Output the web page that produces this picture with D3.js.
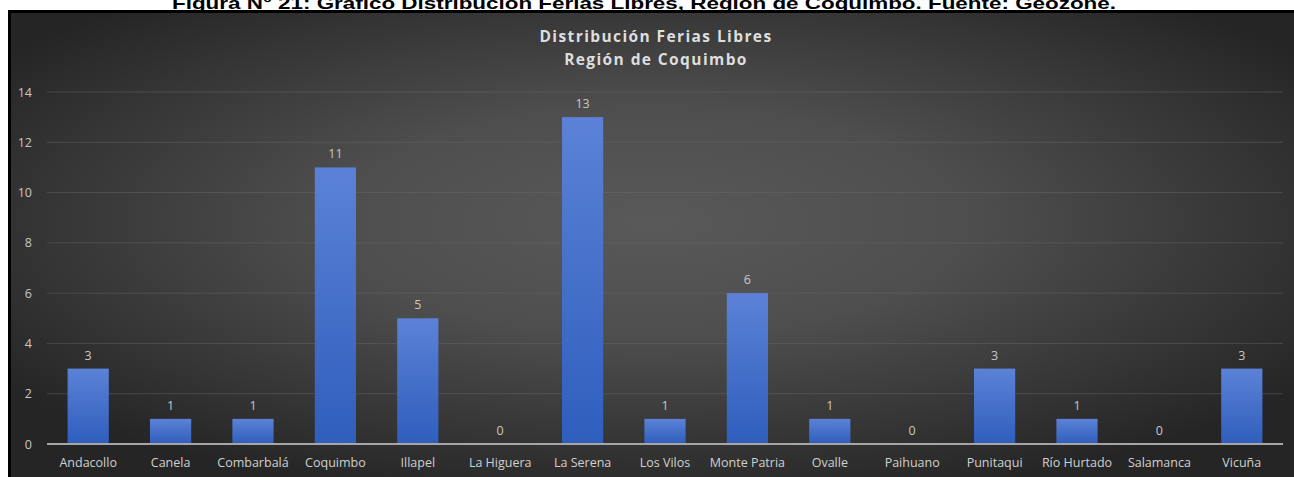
<!DOCTYPE html>
<html><head><meta charset="utf-8">
<script src="https://cdn.jsdelivr.net/npm/d3@7"></script>
<style>html,body{margin:0;padding:0;background:#fff;overflow:hidden}</style>
</head><body>
<script>
const categories = ["Andacollo","Canela","Combarbalá","Coquimbo","Illapel","La Higuera","La Serena","Los Vilos","Monte Patria","Ovalle","Paihuano","Punitaqui","Río Hurtado","Salamanca","Vicuña"];
const values = [3,1,1,11,5,0,13,1,6,1,0,3,1,0,3];
const yTicks = [0,2,4,6,8,10,12,14];
const titleLines = ["Distribución Ferias Libres","Región de Coquimbo"];
const caption = "Figura N° 21: Gráfico Distribución Ferias Libres, Región de Coquimbo. Fuente: Geozone.";

const W = 1294, H = 477;
const svg = d3.select("body").append("svg").attr("width", W).attr("height", H);
const defs = svg.append("defs");
const bg = defs.append("radialGradient").attr("id","bg").attr("cx","50%").attr("cy","45%").attr("r","62%");
bg.append("stop").attr("offset","0%").attr("stop-color","#595959");
bg.append("stop").attr("offset","40%").attr("stop-color","#4e4e4e");
bg.append("stop").attr("offset","100%").attr("stop-color","#252525");
const bar = defs.append("linearGradient").attr("id","bar").attr("x1",0).attr("y1",0).attr("x2",0).attr("y2",1);
bar.append("stop").attr("offset","0%").attr("stop-color","#5b82d6");
bar.append("stop").attr("offset","100%").attr("stop-color","#2f5ebd");

// caption (partly cut off at the top, as in the reference)
svg.append("text").attr("x", 644).attr("y", 9)
  .attr("text-anchor","middle")
  .attr("font-family","Liberation Sans, Arial, sans-serif")
  .attr("font-weight","bold").attr("font-size",17)
  .attr("textLength", 944).attr("lengthAdjust","spacingAndGlyphs")
  .attr("fill","#000").text(caption);

// frame
svg.append("rect").attr("x",8).attr("y",10).attr("width",W-8).attr("height",H-10).attr("fill","#000");
svg.append("rect").attr("x",11).attr("y",13).attr("width",W-11).attr("height",H-13).attr("fill","url(#bg)");

// title
const tt = svg.append("text").attr("text-anchor","middle")
  .attr("font-family","Open Sans, sans-serif").attr("font-weight","bold")
  .attr("font-size",15.5).attr("letter-spacing","1.4px").attr("fill","#dedede");
titleLines.forEach((t,i)=>{
  tt.append("tspan").attr("x",656).attr("y",42 + i*23).text(t);
});

const left = 47, right = 1283;
const x = d3.scaleBand().domain(categories).range([left,right]).paddingInner(0.5).paddingOuter(0.25);
const y = d3.scaleLinear().domain([0,14]).range([444,92]);

// gridlines
svg.append("g").selectAll("line").data(yTicks.filter(d=>d>0)).join("line")
  .attr("x1",left).attr("x2",right).attr("y1",d=>y(d)).attr("y2",d=>y(d))
  .attr("stroke","#6a6a6a").attr("stroke-opacity",0.45).attr("stroke-width",1);

// y axis labels
const yAxis = d3.axisLeft(y).tickValues(yTicks).tickSize(0).tickPadding(0);
const ya = svg.append("g").attr("transform",`translate(${32},0)`).call(yAxis);
ya.select(".domain").remove();
ya.selectAll("text").attr("font-family","Open Sans, sans-serif").attr("font-size",12.5).attr("fill","#c8c8c8");

// bars
svg.append("g").selectAll("rect").data(values).join("rect")
  .attr("x",(d,i)=>x(categories[i])).attr("width",x.bandwidth())
  .attr("y",d=>y(d)).attr("height",d=>y(0)-y(d))
  .attr("fill","url(#bar)");

// value labels
svg.append("g").selectAll("text").data(values).join("text")
  .attr("x",(d,i)=>x(categories[i])+x.bandwidth()/2).attr("y",d=>y(d)-9)
  .attr("text-anchor","middle").attr("font-family","Open Sans, sans-serif")
  .attr("font-size",12.5).attr("fill","#c8c8c8").text(d=>d);

// x axis
const xAxis = d3.axisBottom(x).tickSize(0).tickPadding(14);
const xa = svg.append("g").attr("transform",`translate(0,${y(0)})`).call(xAxis);
xa.select(".domain").attr("stroke","#a6a6a6").attr("stroke-width",2).attr("d",`M${left},0H${right}`);
xa.selectAll("text").attr("font-family","Open Sans, sans-serif").attr("font-size",12.5).attr("fill","#d0d0d0");
</script>
</body></html>
